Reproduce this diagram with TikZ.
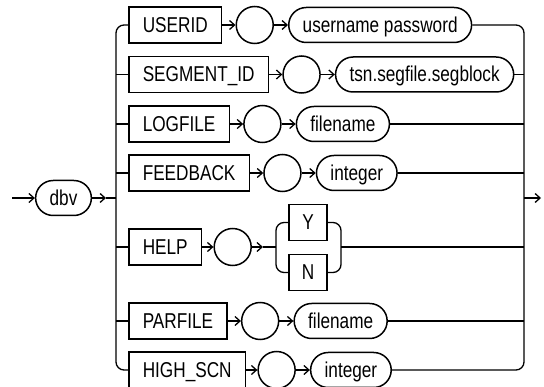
\documentclass[tikz,border=0pt]{standalone}
\usepackage{fontspec}
\newfontfamily\railfont[FakeStretch=0.80]{Liberation Sans}
\usetikzlibrary{arrows.meta, positioning}
\tikzset{
	lbl/.style={font=\railfont\fontsize{21.5}{24}\selectfont, text height=14.8pt, text depth=0pt},
	kw/.style={draw, line width=1.5pt, shape=rectangle, minimum height=36pt, inner xsep=14pt, lbl},
	var/.style={draw, line width=1.5pt, shape=rectangle, rounded corners=17.5pt, minimum height=35pt, inner xsep=14pt, lbl},
	blank/.style={draw, line width=1.5pt, circle, minimum size=37pt, inner sep=0pt},
	rail/.style={line width=1.3pt, rounded corners=8pt},
	go/.style={line width=1.3pt, -{Straight Barb[length=5pt,width=9pt]}}
}
\begin{document}
\begin{tikzpicture}[x=1pt, y=-1pt, node distance=13pt]
		\useasboundingbox (0,0) rectangle (544,387);
		
		% Start and rails
		\node (dbv) [var] at (63.5,198) {dbv};
		\coordinate (start) at (12,198);
		\coordinate (dbvtip) at (106,198);
		\coordinate (railL) at (116,198);
		\coordinate (railR) at (524,198);
		\coordinate (finish) at (541,198);
		
		% Branches
		\node (userid) [kw, anchor=west] at (128,25) {USERID};
		\node (userid-c) [blank, right=of userid] {};
		\node (userid-v) [var, right=14pt of userid-c] {username password};
		
		\node (segid) [kw, anchor=west] at (128,74.5) {SEGMENT\_ID};
		\node (segid-c) [blank, right=of segid] {};
		\node (segid-v) [var, right=14pt of segid-c] {tsn.segfile.segblock};
		
		\node (logfile) [kw, anchor=west] at (128,124) {LOGFILE};
		\node (logfile-c) [blank, right=of logfile] {};
		\node (logfile-v) [var, right=14pt of logfile-c] {filename};
		
		\node (feedback) [kw, anchor=west] at (128,173) {FEEDBACK};
		\node (feedback-c) [blank, right=of feedback] {};
		\node (feedback-v) [var, right=14pt of feedback-c] {integer};
		
		\node (help) [kw, anchor=west] at (128,247) {HELP};
		\node (help-c) [blank, right=11pt of help] {};
		\coordinate [right=11pt of help-c] (help-tip);
		\coordinate (helpL) at (276,247);
		\coordinate (helpR) at (341,247);
		\node (yes) [kw, minimum width=38pt, inner xsep=0pt] at (308,222.5) {Y};
		\node (no) [kw, minimum width=38pt, inner xsep=0pt] at (308,272.5) {N};
		
		\node (parfile) [kw, anchor=west] at (128,321) {PARFILE};
		\node (parfile-c) [blank, right=of parfile] {};
		\node (parfile-v) [var, right=14pt of parfile-c] {filename};
		
		\node (highscn) [kw, anchor=west] at (128,370) {HIGH\_SCN};
		\node (highscn-c) [blank, right=11pt of highscn] {};
		\node (highscn-v) [var, right=14pt of highscn-c] {integer};
		
		% Connectors
		\draw [go] (start) -- (dbv);
		\draw [go] (dbv) -- (dbvtip);
		\draw [rail] (dbvtip) -- (railL);
		\draw [rail] (userid.west) -| (railL) |- (highscn.west);
		\foreach \r in {segid, logfile, feedback, help, parfile}
			\draw [rail] (railL |- \r.west) -- (\r.west);
		\foreach \r in {userid, segid, logfile, feedback, parfile, highscn} {
			\draw [go] (\r) -- (\r-c);
			\draw [go] (\r-c) -- (\r-v);
		}
		\draw [rail] (userid-v.east) -| (railR) |- (highscn-v.east);
		\foreach \r in {segid, logfile, feedback, parfile}
			\draw [rail] (\r-v.east) -- (\r-v.east -| railR);
		
		% HELP choice
		\draw [go] (help) -- (help-c);
		\draw [go] (help-c) -- (help-tip);
		\draw [rail] (help-tip) -- (helpL);
		\draw [rail] (yes.west) -| (helpL) |- (no.west);
		\draw [rail] (yes.east) -| (helpR) |- (no.east);
		\draw [rail] (helpR) -- (helpR -| railR);
		
		\draw [go] (railR) -- (finish);
		
\end{tikzpicture}
\end{document}
